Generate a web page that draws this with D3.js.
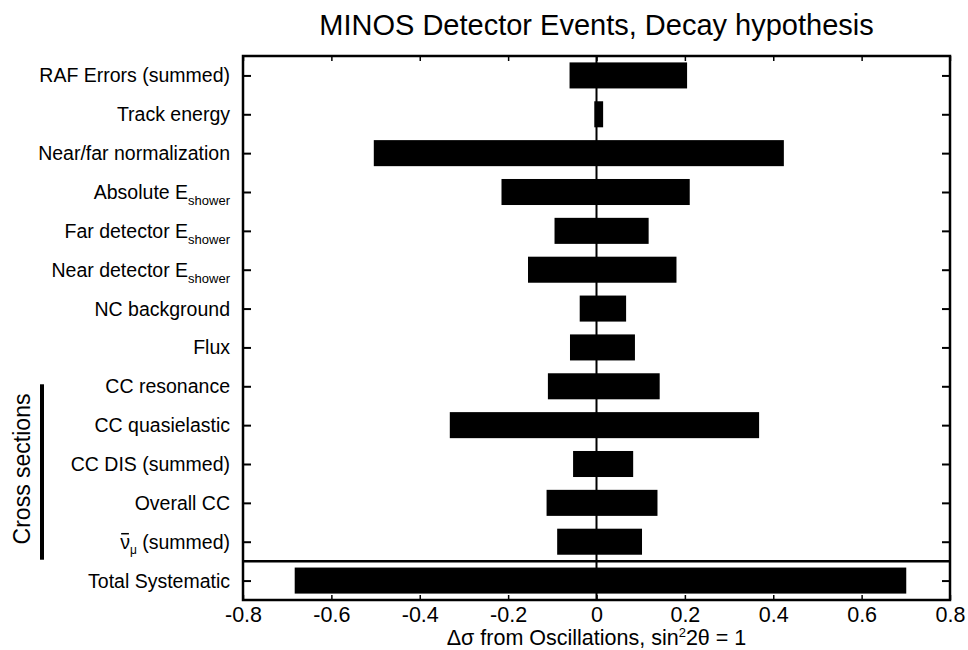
<!DOCTYPE html>
<html><head><meta charset="utf-8">
<script src="https://cdn.jsdelivr.net/npm/d3@7"></script>
<style>body{margin:0;background:#fff}svg{display:block}text{font-family:"Liberation Sans",Arial,sans-serif;fill:#000}</style>
</head><body>
<svg id="c" width="968" height="650"></svg>
<script>
// Data
const categories = ["RAF Errors (summed)","Track energy","Near/far normalization","Absolute E","Far detector E","Near detector E","NC background","Flux","CC resonance","CC quasielastic","CC DIS (summed)","Overall CC","nubar","Total Systematic"];
const subscripts = ["","","","shower","shower","shower","","","","","","","",""];
const lowValues  = [-0.061,-0.005,-0.504,-0.215,-0.095,-0.155,-0.038,-0.060,-0.110,-0.332,-0.053,-0.113,-0.089,-0.683];
const highValues = [0.205,0.015,0.424,0.211,0.118,0.181,0.067,0.087,0.143,0.368,0.083,0.138,0.103,0.701];
const xTicks = [-0.8,-0.6,-0.4,-0.2,0,0.2,0.4,0.6,0.8];
const xTickLabels = ["-0.8","-0.6","-0.4","-0.2","0","0.2","0.4","0.6","0.8"];
const groupLabel = "Cross sections";
const groupMembers = ["CC resonance","nubar"];

const svg = d3.select("#c");
const L = 243, R = 950, T = 56, B = 600;
const x = d3.scaleLinear().domain([-0.8,0.8]).range([L,R]);
const y = d3.scalePoint().domain(categories).range([T,B]).padding(0.5);
const step = y.step();
const barH = step*0.67;

// Title
svg.append("text").attr("x",(L+R)/2).attr("y",35).attr("text-anchor","middle")
  .style("font-size","29px").text("MINOS Detector Events, Decay hypothesis");

// zero line
svg.append("line").attr("x1",x(0)).attr("x2",x(0)).attr("y1",T).attr("y2",B)
  .attr("stroke","#000").attr("stroke-width",2);

// bars
svg.append("g").selectAll("rect").data(categories).join("rect")
  .attr("x",(d,i)=>x(lowValues[i]))
  .attr("width",(d,i)=>x(highValues[i])-x(lowValues[i]))
  .attr("y",d=>y(d)-barH/2).attr("height",barH).attr("fill","#000");

// separator line
const sepY = (y(categories[categories.length-2])+y(categories[categories.length-1]))/2;
svg.append("line").attr("x1",L).attr("x2",R).attr("y1",sepY).attr("y2",sepY)
  .attr("stroke","#000").attr("stroke-width",2.5);

// axes
const xb = d3.axisBottom(x).tickValues(xTicks).tickSize(-5).tickFormat((d,i)=>xTickLabels[i]);
const gxb = svg.append("g").attr("transform",`translate(0,${B})`).call(xb);
gxb.select(".domain").remove();
gxb.selectAll("line").attr("stroke-width",1.5);
gxb.selectAll("text").style("font-size","21.5px").attr("dy",null).attr("y",22);

const xt = d3.axisTop(x).tickValues(xTicks).tickSize(-5).tickFormat("");
const gxt = svg.append("g").attr("transform",`translate(0,${T})`).call(xt);
gxt.select(".domain").remove();
gxt.selectAll("line").attr("stroke-width",1.5);

const yl = d3.axisLeft(y).tickSize(-8).tickFormat("");
const gyl = svg.append("g").attr("transform",`translate(${L},0)`).call(yl);
gyl.select(".domain").remove();
gyl.selectAll("line").attr("stroke-width",2);

const yr = d3.axisRight(y).tickSize(-8).tickFormat("");
const gyr = svg.append("g").attr("transform",`translate(${R},0)`).call(yr);
gyr.select(".domain").remove();
gyr.selectAll("line").attr("stroke-width",2);

// frame
svg.append("rect").attr("x",L).attr("y",T).attr("width",R-L).attr("height",B-T)
  .attr("fill","none").attr("stroke","#000").attr("stroke-width",2.5);

// category labels
const lab = svg.append("g").selectAll("text").data(categories).join("text")
  .attr("x",230).attr("y",d=>y(d)+7).attr("text-anchor","end").style("font-size","19.5px");
lab.each(function(d,i){
  const t = d3.select(this);
  if (d === "nubar") {
    t.append("tspan").text("\u03BD");
    t.append("tspan").attr("dy",5).style("font-size","12px").text("\u03BC");
    t.append("tspan").attr("dy",-5).text(" (summed)");
    const e = this.getExtentOfChar(0);
    svg.append("line").attr("x1",e.x+1).attr("x2",e.x+e.width-1)
      .attr("y1",e.y+3).attr("y2",e.y+3).attr("stroke","#000").attr("stroke-width",1.5);
  } else if (subscripts[i]) {
    t.append("tspan").text(d);
    t.append("tspan").attr("dy",6).style("font-size","13px").text(subscripts[i]);
  } else {
    t.text(d);
  }
});

// x axis label
const xl = svg.append("text").attr("x",x(0)).attr("y",645).attr("text-anchor","middle").style("font-size","21.5px");
xl.append("tspan").text("\u0394\u03C3 from Oscillations, sin");
xl.append("tspan").attr("dy",-8).style("font-size","13px").text("2");
xl.append("tspan").attr("dy",8).text("2\u03B8 = 1");

// group bracket
const gy1 = y(groupMembers[0]) - 2, gy2 = y(groupMembers[1]) + 18;
svg.append("line").attr("x1",42).attr("x2",42).attr("y1",gy1).attr("y2",gy2)
  .attr("stroke","#000").attr("stroke-width",4);
svg.append("text").attr("transform",`translate(30,${(gy1+gy2)/2 - 3}) rotate(-90)`)
  .attr("text-anchor","middle").style("font-size","23px").text(groupLabel);
</script>
</body></html>
